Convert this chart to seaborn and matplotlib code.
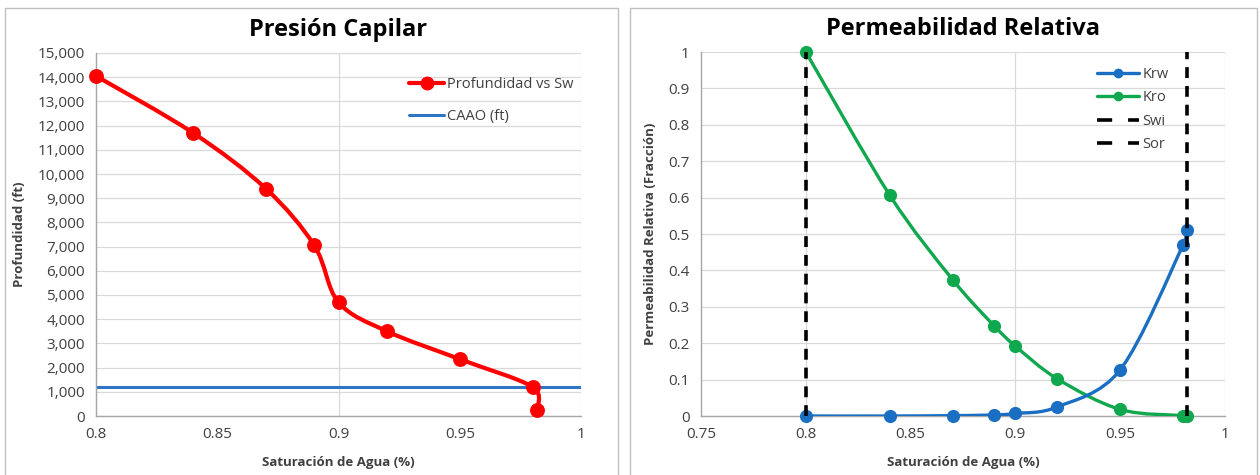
import numpy as np
import pandas as pd
import seaborn as sns
import matplotlib
matplotlib.use("Agg")
import matplotlib.pyplot as plt
from matplotlib.path import Path
from matplotlib.patches import PathPatch, Rectangle
from matplotlib.lines import Line2D
from matplotlib.ticker import FuncFormatter, MultipleLocator

# --- data -----------------------------------------------------------------
sw_cap = [0.80, 0.84, 0.87, 0.89, 0.90, 0.92, 0.95, 0.980, 0.982]
depth_ft = [14050, 11700, 9400, 7050, 4700, 3500, 2350, 1200, 250]
caao_x = [0.80, 1.00]
caao_ft = [1200, 1200]

sw_rel = [0.80, 0.84, 0.87, 0.89, 0.90, 0.92, 0.95, 0.980, 0.982]
krw = [0.0, 0.0, 0.001, 0.003, 0.007, 0.025, 0.127, 0.470, 0.510]
kro = [1.0, 0.607, 0.375, 0.247, 0.192, 0.102, 0.018, 0.001, 0.0]
swi = 0.80
sor = 0.982

sns.set_theme(style="white")
plt.rcParams["font.family"] = ["Open Sans", "DejaVu Sans"]

RED = "#FF0000"
BLUE_LINE = "#2E75C6"
KRW_C = "#1A6FC2"
KRO_C = "#10A84E"
GRID = "#D9D9D9"
AXIS = "#A6A6A6"
TXT = "#404040"
DASH = (0, (3.0, 2.2))


def smooth_path(x, y, xspan, yspan):
    """Smoothed line as cubic Bezier segments (Catmull-Rom tangents),
    with handle lengths kept within half of each segment."""
    pts = np.column_stack([x, y]).astype(float)
    scale = np.array([xspan, yspan], dtype=float)
    n = len(pts)
    verts = [pts[0]]
    codes = [Path.MOVETO]

    def capped(h, seg):
        hn = np.linalg.norm(h / scale)
        sn = np.linalg.norm(seg / scale)
        lim = 0.5 * sn
        return h * (lim / hn) if hn > lim else h

    for i in range(n - 1):
        p0 = pts[i - 1] if i > 0 else pts[i]
        p1 = pts[i]
        p2 = pts[i + 1]
        p3 = pts[i + 2] if i + 2 < n else pts[i + 1]
        seg = p2 - p1
        c1 = p1 + capped((p2 - p0) / 6.0, seg)
        c2 = p2 - capped((p3 - p1) / 6.0, seg)
        verts += [c1, c2, p2]
        codes += [Path.CURVE4] * 3
    return Path(verts, codes)


def style_axes(ax, xlim, ylim, xmajor, ymajor, xgrid):
    ax.set_xlim(*xlim)
    ax.set_ylim(*ylim)
    ax.xaxis.set_major_locator(MultipleLocator(xmajor))
    ax.yaxis.set_major_locator(MultipleLocator(ymajor))
    ax.set_axisbelow(True)
    ax.yaxis.grid(True, color=GRID, lw=0.9)
    for xv in xgrid:
        ax.axvline(xv, color=GRID, lw=0.9, zorder=0)
    for s in ["top", "right"]:
        ax.spines[s].set_visible(False)
    for s in ["left", "bottom"]:
        ax.spines[s].set_color(AXIS)
        ax.spines[s].set_linewidth(1.0)
    ax.tick_params(axis="both", which="major", direction="out", length=4,
                   width=1.0, color=AXIS, labelsize=11, labelcolor=TXT, pad=4)


fig = plt.figure(figsize=(12.6, 4.75), dpi=100)
fig.patch.set_facecolor("white")

# chart frames
for x0, x1 in [(5, 618), (630, 1257)]:
    fig.patches.append(Rectangle((x0 / 1260, -0.05), (x1 - x0) / 1260,
                                 1 - 8 / 475 + 0.05, transform=fig.transFigure,
                                 fill=False, edgecolor="#BFBFBF", lw=1.0))

# --- Presión Capilar ------------------------------------------------------
ax1 = fig.add_axes([96 / 1260, 1 - 416 / 475, (581 - 96) / 1260, (416 - 53) / 475])
style_axes(ax1, (0.8, 1.0), (0, 15000), 0.05, 1000, [0.9, 1.0])
ax1.yaxis.set_major_formatter(FuncFormatter(lambda v, p: f"{int(v):,}"))
ax1.xaxis.set_major_formatter(FuncFormatter(lambda v, p: f"{v:g}"))

sns.lineplot(x=caao_x, y=caao_ft, ax=ax1, color=BLUE_LINE, lw=2.2, zorder=2)
ax1.add_patch(PathPatch(smooth_path(sw_cap, depth_ft, 0.2, 15000), fill=False,
                        edgecolor=RED, lw=3.0, zorder=3, capstyle="round"))
sns.scatterplot(x=sw_cap, y=depth_ft, ax=ax1, color=RED, s=115,
                edgecolor=RED, linewidth=0, zorder=4, clip_on=False)

ax1.set_title("Presión Capilar", fontsize=17, fontweight="bold", color="black", pad=12)
ax1.set_xlabel("Saturación de Agua (%)", fontsize=9.5, fontweight="bold", color=TXT, labelpad=10)
ax1.set_ylabel("Profundidad (ft)", fontsize=9.5, fontweight="bold", color=TXT, labelpad=8)

h1 = [Line2D([], [], color=RED, lw=3, marker="o", ms=9),
      Line2D([], [], color=BLUE_LINE, lw=2.2)]
ax1.legend(h1, ["Profundidad vs Sw", "CAAO (ft)"], loc="upper right",
           bbox_to_anchor=(1.012, 0.97), frameon=False, fontsize=10.5,
           labelcolor=TXT, handlelength=2.4, handletextpad=0.2, labelspacing=1.15)

# --- Permeabilidad Relativa -----------------------------------------------
ax2 = fig.add_axes([701 / 1260, 1 - 416 / 475, (1225 - 701) / 1260, (416 - 52) / 475])
style_axes(ax2, (0.75, 1.0), (0, 1.0), 0.05, 0.1, [0.8, 0.9, 1.0])
ax2.xaxis.set_major_formatter(FuncFormatter(lambda v, p: f"{v:g}"))
ax2.yaxis.set_major_formatter(FuncFormatter(lambda v, p: f"{v:g}"))

for xv in (swi, sor):
    ax2.plot([xv, xv], [0, 1], color="black", lw=2.6, ls=DASH, zorder=5)

ax2.add_patch(PathPatch(smooth_path(sw_rel, kro, 0.25, 1.0), fill=False,
                        edgecolor=KRO_C, lw=2.4, zorder=3))
ax2.add_patch(PathPatch(smooth_path(sw_rel, krw, 0.25, 1.0), fill=False,
                        edgecolor=KRW_C, lw=2.4, zorder=3))
sns.scatterplot(x=sw_rel, y=kro, ax=ax2, color=KRO_C, s=90, linewidth=0,
                zorder=4, clip_on=False)
sns.scatterplot(x=sw_rel, y=krw, ax=ax2, color=KRW_C, s=90, linewidth=0,
                zorder=4, clip_on=False)

ax2.set_title("Permeabilidad Relativa", fontsize=17, fontweight="bold", color="black", pad=12)
ax2.set_xlabel("Saturación de Agua (%)", fontsize=9.5, fontweight="bold", color=TXT, labelpad=10)
ax2.set_ylabel("Permeabilidad Relativa (Fracción)", fontsize=9.5, fontweight="bold",
               color=TXT, labelpad=8)

LEG_DASH = (0, (4.2, 4.4))
h2 = [Line2D([], [], color=KRW_C, lw=2.4, marker="o", ms=6),
      Line2D([], [], color=KRO_C, lw=2.4, marker="o", ms=6),
      Line2D([], [], color="black", lw=2.6, ls=LEG_DASH),
      Line2D([], [], color="black", lw=2.6, ls=LEG_DASH)]
ax2.legend(h2, ["Krw", "Kro", "Swi", "Sor"], loc="upper right",
           bbox_to_anchor=(0.918, 0.995), frameon=False, fontsize=10.5,
           labelcolor=TXT, handlelength=2.9, handletextpad=0.25, labelspacing=0.58)

fig.savefig("out.png", dpi=100, facecolor="white")
